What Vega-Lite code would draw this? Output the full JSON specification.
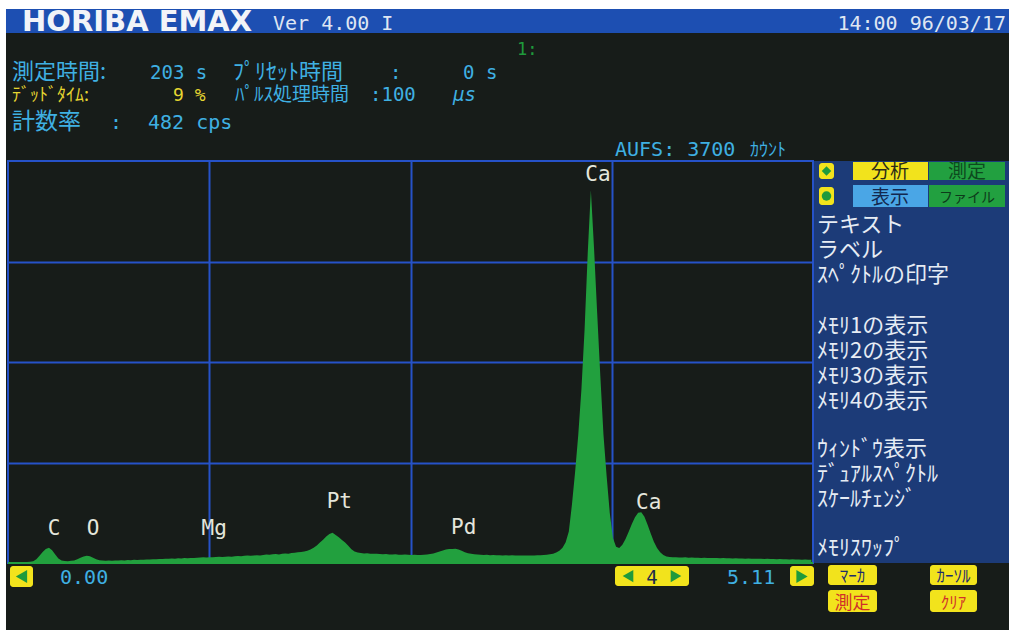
{
"$schema": "https://vega.github.io/schema/vega-lite/v6.json",
"width": 805, "height": 402,
"autosize": {"type": "none"},
"padding": {"left": 8, "top": 161, "right": 196, "bottom": 67},
"background": "#171c19",
"config": {"view": {"stroke": "#2652c8", "strokeWidth": 2}, "axis": {"titleOpacity": 0, "labels": false, "ticks": false, "domain": false}},
"datasets": {
"spectrum": [
{"keV":0.00,"counts":0},{"keV":0.02,"counts":2},{"keV":0.04,"counts":4},{"keV":0.06,"counts":5},{"keV":0.08,"counts":6},{"keV":0.10,"counts":8},{"keV":0.12,"counts":9},{"keV":0.14,"counts":11},{"keV":0.16,"counts":16},{"keV":0.18,"counts":34},
{"keV":0.20,"counts":66},{"keV":0.22,"counts":102},{"keV":0.24,"counts":128},{"keV":0.26,"counts":140},{"keV":0.28,"counts":118},{"keV":0.30,"counts":78},{"keV":0.32,"counts":42},{"keV":0.34,"counts":24},{"keV":0.36,"counts":18},{"keV":0.38,"counts":17},
{"keV":0.40,"counts":20},{"keV":0.42,"counts":24},{"keV":0.44,"counts":34},{"keV":0.46,"counts":48},{"keV":0.48,"counts":60},{"keV":0.50,"counts":66},{"keV":0.52,"counts":62},{"keV":0.54,"counts":48},{"keV":0.56,"counts":34},{"keV":0.58,"counts":26},
{"keV":0.60,"counts":22},{"keV":0.62,"counts":20},{"keV":0.64,"counts":22},{"keV":0.66,"counts":21},{"keV":0.68,"counts":24},{"keV":0.70,"counts":23},{"keV":0.72,"counts":25},{"keV":0.74,"counts":24},{"keV":0.76,"counts":27},{"keV":0.78,"counts":26},
{"keV":0.80,"counts":29},{"keV":0.82,"counts":28},{"keV":0.84,"counts":31},{"keV":0.86,"counts":30},{"keV":0.88,"counts":33},{"keV":0.90,"counts":32},{"keV":0.92,"counts":35},{"keV":0.94,"counts":34},{"keV":0.96,"counts":37},{"keV":0.98,"counts":36},
{"keV":1.00,"counts":39},{"keV":1.02,"counts":38},{"keV":1.04,"counts":41},{"keV":1.06,"counts":40},{"keV":1.08,"counts":43},{"keV":1.10,"counts":42},{"keV":1.12,"counts":45},{"keV":1.14,"counts":44},{"keV":1.16,"counts":47},{"keV":1.18,"counts":46},
{"keV":1.20,"counts":49},{"keV":1.22,"counts":50},{"keV":1.24,"counts":52},{"keV":1.26,"counts":50},{"keV":1.28,"counts":53},{"keV":1.30,"counts":52},{"keV":1.32,"counts":55},{"keV":1.34,"counts":57},{"keV":1.36,"counts":55},{"keV":1.38,"counts":58},
{"keV":1.40,"counts":60},{"keV":1.42,"counts":58},{"keV":1.44,"counts":62},{"keV":1.46,"counts":64},{"keV":1.48,"counts":62},{"keV":1.50,"counts":66},{"keV":1.52,"counts":68},{"keV":1.54,"counts":66},{"keV":1.56,"counts":70},{"keV":1.58,"counts":72},
{"keV":1.60,"counts":70},{"keV":1.62,"counts":74},{"keV":1.64,"counts":78},{"keV":1.66,"counts":75},{"keV":1.68,"counts":80},{"keV":1.70,"counts":82},{"keV":1.72,"counts":79},{"keV":1.74,"counts":85},{"keV":1.76,"counts":88},{"keV":1.78,"counts":86},
{"keV":1.80,"counts":92},{"keV":1.82,"counts":95},{"keV":1.84,"counts":98},{"keV":1.86,"counts":102},{"keV":1.88,"counts":106},{"keV":1.90,"counts":112},{"keV":1.92,"counts":124},{"keV":1.94,"counts":140},{"keV":1.96,"counts":162},{"keV":1.98,"counts":188},
{"keV":2.00,"counts":215},{"keV":2.02,"counts":245},{"keV":2.04,"counts":268},{"keV":2.06,"counts":278},{"keV":2.08,"counts":258},{"keV":2.10,"counts":236},{"keV":2.12,"counts":212},{"keV":2.14,"counts":188},{"keV":2.16,"counts":158},{"keV":2.18,"counts":126},
{"keV":2.20,"counts":106},{"keV":2.22,"counts":96},{"keV":2.24,"counts":92},{"keV":2.26,"counts":88},{"keV":2.28,"counts":90},{"keV":2.30,"counts":86},{"keV":2.32,"counts":84},{"keV":2.34,"counts":86},{"keV":2.36,"counts":82},{"keV":2.38,"counts":80},
{"keV":2.40,"counts":82},{"keV":2.42,"counts":79},{"keV":2.44,"counts":78},{"keV":2.46,"counts":80},{"keV":2.48,"counts":77},{"keV":2.50,"counts":76},{"keV":2.52,"counts":78},{"keV":2.54,"counts":75},{"keV":2.56,"counts":74},{"keV":2.58,"counts":76},
{"keV":2.60,"counts":74},{"keV":2.62,"counts":73},{"keV":2.64,"counts":75},{"keV":2.66,"counts":78},{"keV":2.68,"counts":82},{"keV":2.70,"counts":88},{"keV":2.72,"counts":96},{"keV":2.74,"counts":106},{"keV":2.76,"counts":116},{"keV":2.78,"counts":124},
{"keV":2.80,"counts":130},{"keV":2.82,"counts":128},{"keV":2.84,"counts":132},{"keV":2.86,"counts":124},{"keV":2.88,"counts":112},{"keV":2.90,"counts":100},{"keV":2.92,"counts":90},{"keV":2.94,"counts":84},{"keV":2.96,"counts":80},{"keV":2.98,"counts":78},
{"keV":3.00,"counts":76},{"keV":3.02,"counts":74},{"keV":3.04,"counts":75},{"keV":3.06,"counts":72},{"keV":3.08,"counts":73},{"keV":3.10,"counts":71},{"keV":3.12,"counts":72},{"keV":3.14,"counts":70},{"keV":3.16,"counts":72},{"keV":3.18,"counts":70},
{"keV":3.20,"counts":71},{"keV":3.22,"counts":69},{"keV":3.24,"counts":70},{"keV":3.26,"counts":68},{"keV":3.28,"counts":70},{"keV":3.30,"counts":69},{"keV":3.32,"counts":70},{"keV":3.34,"counts":68},{"keV":3.36,"counts":71},{"keV":3.38,"counts":72},
{"keV":3.40,"counts":74},{"keV":3.42,"counts":76},{"keV":3.44,"counts":80},{"keV":3.46,"counts":86},{"keV":3.48,"counts":96},{"keV":3.50,"counts":112},{"keV":3.52,"counts":140},{"keV":3.54,"counts":190},{"keV":3.56,"counts":290},{"keV":3.58,"counts":540},
{"keV":3.60,"counts":840},{"keV":3.62,"counts":1180},{"keV":3.64,"counts":1600},{"keV":3.66,"counts":2150},{"keV":3.68,"counts":2850},{"keV":3.70,"counts":3430},{"keV":3.72,"counts":2900},{"keV":3.74,"counts":2300},{"keV":3.76,"counts":1720},{"keV":3.78,"counts":1180},
{"keV":3.80,"counts":800},{"keV":3.82,"counts":460},{"keV":3.84,"counts":230},{"keV":3.86,"counts":150},{"keV":3.88,"counts":138},{"keV":3.90,"counts":168},{"keV":3.92,"counts":222},{"keV":3.94,"counts":288},{"keV":3.96,"counts":358},{"keV":3.98,"counts":420},
{"keV":4.00,"counts":462},{"keV":4.02,"counts":468},{"keV":4.04,"counts":425},{"keV":4.06,"counts":352},{"keV":4.08,"counts":272},{"keV":4.10,"counts":196},{"keV":4.12,"counts":138},{"keV":4.14,"counts":98},{"keV":4.16,"counts":74},{"keV":4.18,"counts":60},
{"keV":4.20,"counts":55},{"keV":4.22,"counts":52},{"keV":4.24,"counts":54},{"keV":4.26,"counts":51},{"keV":4.28,"counts":50},{"keV":4.30,"counts":52},{"keV":4.32,"counts":49},{"keV":4.34,"counts":50},{"keV":4.36,"counts":48},{"keV":4.38,"counts":49},
{"keV":4.40,"counts":47},{"keV":4.42,"counts":48},{"keV":4.44,"counts":46},{"keV":4.46,"counts":47},{"keV":4.48,"counts":45},{"keV":4.50,"counts":46},{"keV":4.52,"counts":44},{"keV":4.54,"counts":45},{"keV":4.56,"counts":43},{"keV":4.58,"counts":44},
{"keV":4.60,"counts":42},{"keV":4.62,"counts":43},{"keV":4.64,"counts":41},{"keV":4.66,"counts":42},{"keV":4.68,"counts":40},{"keV":4.70,"counts":41},{"keV":4.72,"counts":39},{"keV":4.74,"counts":40},{"keV":4.76,"counts":38},{"keV":4.78,"counts":39},
{"keV":4.80,"counts":37},{"keV":4.82,"counts":38},{"keV":4.84,"counts":36},{"keV":4.86,"counts":37},{"keV":4.88,"counts":35},{"keV":4.90,"counts":36},{"keV":4.92,"counts":34},{"keV":4.94,"counts":35},{"keV":4.96,"counts":33},{"keV":4.98,"counts":34},
{"keV":5.00,"counts":32},{"keV":5.02,"counts":33},{"keV":5.04,"counts":31},{"keV":5.06,"counts":32},{"keV":5.08,"counts":30},{"keV":5.10,"counts":31}
],
"peaks": [
{"element":"C","energy":0.277,"height":258},
{"element":"O","energy":0.525,"height":258},
{"element":"Mg","energy":1.254,"height":258},
{"element":"Pt","energy":2.048,"height":506},
{"element":"Pd","energy":2.838,"height":267},
{"element":"Ca","energy":3.690,"height":3516},
{"element":"Ca","energy":4.012,"height":497}
]
},
"layer": [
{"data": {"values": [{}]}, "mark": {"type": "rect", "color": "#ffffff"}, "encoding": {"x": {"datum": -0.06}, "x2": {"datum": 6.4}, "y": {"datum": 5099}, "y2": {"datum": 5200}}},
{"data": {"values": [{}]}, "mark": {"type": "rect", "color": "#ffffff"}, "encoding": {"x": {"datum": -0.06}, "x2": {"datum": -0.0127}, "y": {"datum": -700}, "y2": {"datum": 5200}}},
{"data": {"values": [{}]}, "mark": {"type": "rect", "color": "#1d4fb2"}, "encoding": {"x": {"datum": -0.0127}, "x2": {"datum": 6.4}, "y": {"datum": 4878}, "y2": {"datum": 5099}}},
{"data": {"values": [{}]}, "mark": {"type": "rect", "color": "#1c3b78"}, "encoding": {"x": {"datum": 5.1164}, "x2": {"datum": 6.4}, "y": {"datum": 0}, "y2": {"datum": 3700}}},
{"data": {"name": "spectrum"}, "mark": {"type": "area", "color": "#22a03e", "interpolate": "linear"},
 "encoding": {
  "x": {"field": "keV", "type": "quantitative", "scale": {"domain": [0, 5.11], "nice": false, "zero": false}, "axis": {"values": [1.2775, 2.555, 3.8325], "grid": true, "gridColor": "#2652c8", "gridWidth": 2, "gridOpacity": 1, "title": null}},
  "y": {"field": "counts", "type": "quantitative", "scale": {"domain": [0, 3700], "nice": false, "zero": false}, "axis": {"values": [925, 1850, 2775], "grid": true, "gridColor": "#2652c8", "gridWidth": 2, "gridOpacity": 1, "title": null}}
 }},
{"data": {"values": [{}]}, "mark": {"type": "rule", "color": "#22a03e", "strokeWidth": 2}, "encoding": {"y": {"datum": 0}}},
{"data": {"name": "peaks"}, "mark": {"type": "text", "align": "left", "baseline": "alphabetic", "dx": -4, "font": "DejaVu Sans Mono", "fontSize": 21, "color": "#e4e6dc"},
 "encoding": {"x": {"field": "energy", "type": "quantitative"}, "y": {"field": "height", "type": "quantitative"}, "text": {"field": "element"}}},
{"data": {"values": [{}]}, "mark": {"type": "text", "text": "HORIBA EMAX", "align": "left", "baseline": "alphabetic", "font": "DejaVu Sans", "fontWeight": "bold", "fontSize": 29, "color": "#f2f4f8"}, "encoding": {"x": {"datum": 0.0889}, "y": {"datum": 4896}}},
{"data": {"values": [{}]}, "mark": {"type": "text", "text": "Ver 4.00 I", "align": "left", "baseline": "alphabetic", "font": "DejaVu Sans Mono", "fontSize": 20, "color": "#dfe6f2"}, "encoding": {"x": {"datum": 1.6822}, "y": {"datum": 4906}}},
{"data": {"values": [{}]}, "mark": {"type": "text", "text": "14:00 96/03/17", "align": "right", "baseline": "alphabetic", "font": "DejaVu Sans Mono", "fontSize": 20, "color": "#dfe6f2"}, "encoding": {"x": {"datum": 6.3351}, "y": {"datum": 4906}}},
{"data": {"values": [{}]}, "mark": {"type": "text", "text": "1:", "align": "left", "baseline": "alphabetic", "font": "DejaVu Sans Mono", "fontSize": 17, "color": "#1f9a3c"}, "encoding": {"x": {"datum": 3.2311}, "y": {"datum": 4676}}},
{"data": {"values": [{}]}, "mark": {"type": "text", "text": "測定時間:", "align": "left", "baseline": "alphabetic", "font": "Noto Sans CJK JP", "fontSize": 22, "color": "#3fb0e2"}, "encoding": {"x": {"datum": 0.0254}, "y": {"datum": 4454}}},
{"data": {"values": [{}]}, "mark": {"type": "text", "text": "203 s", "align": "left", "baseline": "alphabetic", "font": "DejaVu Sans Mono", "fontSize": 19, "color": "#3fb0e2"}, "encoding": {"x": {"datum": 0.9014}, "y": {"datum": 4454}}},
{"data": {"values": [{}]}, "mark": {"type": "text", "text": "ﾌﾟﾘｾｯﾄ時間", "align": "left", "baseline": "alphabetic", "font": "Noto Sans CJK JP", "fontSize": 22, "color": "#3fb0e2"}, "encoding": {"x": {"datum": 1.4283}, "y": {"datum": 4454}}},
{"data": {"values": [{}]}, "mark": {"type": "text", "text": ":", "align": "left", "baseline": "alphabetic", "font": "DejaVu Sans Mono", "fontSize": 19, "color": "#3fb0e2"}, "encoding": {"x": {"datum": 2.4249}, "y": {"datum": 4454}}},
{"data": {"values": [{}]}, "mark": {"type": "text", "text": "0 s", "align": "left", "baseline": "alphabetic", "font": "DejaVu Sans Mono", "fontSize": 19, "color": "#3fb0e2"}, "encoding": {"x": {"datum": 2.8883}, "y": {"datum": 4454}}},
{"data": {"values": [{}]}, "mark": {"type": "text", "text": "ﾃﾞｯﾄﾞﾀｲﾑ:", "align": "left", "baseline": "alphabetic", "font": "Noto Sans CJK JP", "fontSize": 18, "color": "#e6d631"}, "encoding": {"x": {"datum": 0.0254}, "y": {"datum": 4253}}},
{"data": {"values": [{}]}, "mark": {"type": "text", "text": "9 %", "align": "left", "baseline": "alphabetic", "font": "DejaVu Sans Mono", "fontSize": 18, "color": "#e6d631"}, "encoding": {"x": {"datum": 1.0474}, "y": {"datum": 4253}}},
{"data": {"values": [{}]}, "mark": {"type": "text", "text": "ﾊﾟﾙｽ処理時間", "align": "left", "baseline": "alphabetic", "font": "Noto Sans CJK JP", "fontSize": 19, "color": "#3fb0e2"}, "encoding": {"x": {"datum": 1.4410}, "y": {"datum": 4253}}},
{"data": {"values": [{}]}, "mark": {"type": "text", "text": ":100", "align": "left", "baseline": "alphabetic", "font": "DejaVu Sans Mono", "fontSize": 19, "color": "#3fb0e2"}, "encoding": {"x": {"datum": 2.2979}, "y": {"datum": 4253}}},
{"data": {"values": [{}]}, "mark": {"type": "text", "text": "µs", "align": "left", "baseline": "alphabetic", "font": "DejaVu Sans Mono", "fontSize": 19, "fontStyle": "italic", "color": "#3fb0e2"}, "encoding": {"x": {"datum": 2.8248}, "y": {"datum": 4253}}},
{"data": {"values": [{}]}, "mark": {"type": "text", "text": "計数率", "align": "left", "baseline": "alphabetic", "font": "Noto Sans CJK JP", "fontSize": 23, "color": "#3fb0e2"}, "encoding": {"x": {"datum": 0.0254}, "y": {"datum": 3995}}},
{"data": {"values": [{}]}, "mark": {"type": "text", "text": ":", "align": "left", "baseline": "alphabetic", "font": "DejaVu Sans Mono", "fontSize": 20, "color": "#3fb0e2"}, "encoding": {"x": {"datum": 0.6475}, "y": {"datum": 3995}}},
{"data": {"values": [{}]}, "mark": {"type": "text", "text": "482 cps", "align": "left", "baseline": "alphabetic", "font": "DejaVu Sans Mono", "fontSize": 20, "color": "#3fb0e2"}, "encoding": {"x": {"datum": 0.8887}, "y": {"datum": 3995}}},
{"data": {"values": [{}]}, "mark": {"type": "text", "text": "AUFS: 3700", "align": "left", "baseline": "alphabetic", "font": "DejaVu Sans Mono", "fontSize": 20, "color": "#3fb0e2"}, "encoding": {"x": {"datum": 3.8531}, "y": {"datum": 3746}}},
{"data": {"values": [{}]}, "mark": {"type": "text", "text": "ｶｳﾝﾄ", "align": "left", "baseline": "alphabetic", "font": "Noto Sans CJK JP", "fontSize": 18, "color": "#3fb0e2"}, "encoding": {"x": {"datum": 4.7101}, "y": {"datum": 3746}}},
{"data": {"values": [{}]}, "mark": {"type": "rect", "color": "#f2e31c"}, "encoding": {"x": {"datum": 5.3639}, "x2": {"datum": 5.84}, "y": {"datum": 3525}, "y2": {"datum": 3691}}},
{"data": {"values": [{}]}, "mark": {"type": "rect", "color": "#22a040"}, "encoding": {"x": {"datum": 5.8463}, "x2": {"datum": 6.3288}, "y": {"datum": 3525}, "y2": {"datum": 3691}}},
{"data": {"values": [{}]}, "mark": {"type": "rect", "color": "#4aa6e6"}, "encoding": {"x": {"datum": 5.3639}, "x2": {"datum": 5.84}, "y": {"datum": 3277}, "y2": {"datum": 3479}}},
{"data": {"values": [{}]}, "mark": {"type": "rect", "color": "#22a040"}, "encoding": {"x": {"datum": 5.8463}, "x2": {"datum": 6.3288}, "y": {"datum": 3277}, "y2": {"datum": 3479}}},
{"data": {"values": [{}]}, "mark": {"type": "rect", "color": "#f2e31c", "cornerRadius": 3}, "encoding": {"x": {"datum": 5.1481}, "x2": {"datum": 5.2434}, "y": {"datum": 3534}, "y2": {"datum": 3682}}},
{"data": {"values": [{}]}, "mark": {"type": "rect", "color": "#f2e31c", "cornerRadius": 3}, "encoding": {"x": {"datum": 5.1481}, "x2": {"datum": 5.2434}, "y": {"datum": 3295}, "y2": {"datum": 3461}}},
{"data": {"values": [{}]}, "mark": {"type": "point", "shape": "diamond", "filled": true, "color": "#1f9a3c", "size": 90, "opacity": 1}, "encoding": {"x": {"datum": 5.1957}, "y": {"datum": 3608}}},
{"data": {"values": [{}]}, "mark": {"type": "point", "shape": "circle", "filled": true, "color": "#1f9a3c", "size": 90, "opacity": 1}, "encoding": {"x": {"datum": 5.1957}, "y": {"datum": 3378}}},
{"data": {"values": [{}]}, "mark": {"type": "text", "text": "分析", "align": "center", "baseline": "alphabetic", "font": "Noto Sans CJK JP", "fontSize": 19, "color": "#2b2b18"}, "encoding": {"x": {"datum": 5.5988}, "y": {"datum": 3545}}},
{"data": {"values": [{}]}, "mark": {"type": "text", "text": "測定", "align": "center", "baseline": "alphabetic", "font": "Noto Sans CJK JP", "fontSize": 19, "color": "#0d4a1e"}, "encoding": {"x": {"datum": 6.0876}, "y": {"datum": 3545}}},
{"data": {"values": [{}]}, "mark": {"type": "text", "text": "表示", "align": "center", "baseline": "alphabetic", "font": "Noto Sans CJK JP", "fontSize": 19, "color": "#13284f"}, "encoding": {"x": {"datum": 5.5988}, "y": {"datum": 3304}}},
{"data": {"values": [{}]}, "mark": {"type": "text", "text": "ファイル", "align": "center", "baseline": "alphabetic", "font": "Noto Sans CJK JP", "fontSize": 14, "color": "#0d3a1a"}, "encoding": {"x": {"datum": 6.0876}, "y": {"datum": 3320}}},
{"data": {"values": [{}]}, "mark": {"type": "text", "text": ["テキスト", "ラベル", "ｽﾍﾟｸﾄﾙの印字"], "lineHeight": 24.9, "align": "left", "baseline": "alphabetic", "font": "Noto Sans CJK JP", "fontSize": 22, "color": "#e6ecf4"}, "encoding": {"x": {"datum": 5.1354}, "y": {"datum": 3047}}},
{"data": {"values": [{}]}, "mark": {"type": "text", "text": ["ﾒﾓﾘ1の表示", "ﾒﾓﾘ2の表示", "ﾒﾓﾘ3の表示", "ﾒﾓﾘ4の表示"], "lineHeight": 24.9, "align": "left", "baseline": "alphabetic", "font": "Noto Sans CJK JP", "fontSize": 22, "color": "#e6ecf4"}, "encoding": {"x": {"datum": 5.1354}, "y": {"datum": 2117}}},
{"data": {"values": [{}]}, "mark": {"type": "text", "text": ["ｳｨﾝﾄﾞｳ表示", "ﾃﾞｭｱﾙｽﾍﾟｸﾄﾙ", "ｽｹｰﾙﾁｪﾝｼﾞ"], "lineHeight": 24.9, "align": "left", "baseline": "alphabetic", "font": "Noto Sans CJK JP", "fontSize": 22, "color": "#e6ecf4"}, "encoding": {"x": {"datum": 5.1354}, "y": {"datum": 985}}},
{"data": {"values": [{}]}, "mark": {"type": "text", "text": "ﾒﾓﾘｽﾜｯﾌﾟ", "align": "left", "baseline": "alphabetic", "font": "Noto Sans CJK JP", "fontSize": 22, "color": "#e6ecf4"}, "encoding": {"x": {"datum": 5.1354}, "y": {"datum": 74}}},
{"data": {"values": [{}]}, "mark": {"type": "rect", "color": "#f2e31c", "cornerRadius": 3}, "encoding": {"x": {"datum": 0.0127}, "x2": {"datum": 0.1587}, "y": {"datum": -221}, "y2": {"datum": -28}}},
{"data": {"values": [{}]}, "mark": {"type": "rect", "color": "#f2e31c", "cornerRadius": 3}, "encoding": {"x": {"datum": 3.8531}, "x2": {"datum": 4.3229}, "y": {"datum": -212}, "y2": {"datum": -28}}},
{"data": {"values": [{}]}, "mark": {"type": "rect", "color": "#f2e31c", "cornerRadius": 3}, "encoding": {"x": {"datum": 4.964}, "x2": {"datum": 5.1164}, "y": {"datum": -212}, "y2": {"datum": -28}}},
{"data": {"values": [{}]}, "mark": {"type": "rect", "color": "#f2e31c", "cornerRadius": 3}, "encoding": {"x": {"datum": 5.2052}, "x2": {"datum": 5.5163}, "y": {"datum": -202}, "y2": {"datum": -18}}},
{"data": {"values": [{}]}, "mark": {"type": "rect", "color": "#f2e31c", "cornerRadius": 3}, "encoding": {"x": {"datum": 5.2052}, "x2": {"datum": 5.5163}, "y": {"datum": -451}, "y2": {"datum": -249}}},
{"data": {"values": [{}]}, "mark": {"type": "rect", "color": "#f2e31c", "cornerRadius": 3}, "encoding": {"x": {"datum": 5.8527}, "x2": {"datum": 6.1511}, "y": {"datum": -202}, "y2": {"datum": -18}}},
{"data": {"values": [{}]}, "mark": {"type": "rect", "color": "#f2e31c", "cornerRadius": 3}, "encoding": {"x": {"datum": 5.8527}, "x2": {"datum": 6.1511}, "y": {"datum": -451}, "y2": {"datum": -249}}},
{"data": {"values": [{}]}, "mark": {"type": "point", "shape": "triangle-left", "filled": true, "color": "#1f9a3c", "size": 170, "opacity": 1}, "encoding": {"x": {"datum": 0.0857}, "y": {"datum": -124}}},
{"data": {"values": [{}]}, "mark": {"type": "point", "shape": "triangle-left", "filled": true, "color": "#1f9a3c", "size": 150, "opacity": 1}, "encoding": {"x": {"datum": 3.9356}, "y": {"datum": -120}}},
{"data": {"values": [{}]}, "mark": {"type": "point", "shape": "triangle-right", "filled": true, "color": "#1f9a3c", "size": 150, "opacity": 1}, "encoding": {"x": {"datum": 4.2403}, "y": {"datum": -120}}},
{"data": {"values": [{}]}, "mark": {"type": "point", "shape": "triangle-right", "filled": true, "color": "#1f9a3c", "size": 170, "opacity": 1}, "encoding": {"x": {"datum": 5.0402}, "y": {"datum": -124}}},
{"data": {"values": [{}]}, "mark": {"type": "text", "text": "4", "align": "center", "baseline": "alphabetic", "font": "DejaVu Sans Mono", "fontSize": 19, "color": "#1c2c4c"}, "encoding": {"x": {"datum": 4.088}, "y": {"datum": -193}}},
{"data": {"values": [{}]}, "mark": {"type": "text", "text": "0.00", "align": "left", "baseline": "alphabetic", "font": "DejaVu Sans Mono", "fontSize": 20, "color": "#3fb0e2"}, "encoding": {"x": {"datum": 0.3301}, "y": {"datum": -193}}},
{"data": {"values": [{}]}, "mark": {"type": "text", "text": "5.11", "align": "left", "baseline": "alphabetic", "font": "DejaVu Sans Mono", "fontSize": 20, "color": "#3fb0e2"}, "encoding": {"x": {"datum": 4.5641}, "y": {"datum": -193}}},
{"data": {"values": [{}]}, "mark": {"type": "text", "text": "ﾏｰｶ", "align": "center", "baseline": "alphabetic", "font": "Noto Sans CJK JP", "fontSize": 17, "color": "#1c2c6c"}, "encoding": {"x": {"datum": 5.3608}, "y": {"datum": -175}}},
{"data": {"values": [{}]}, "mark": {"type": "text", "text": "測定", "align": "center", "baseline": "alphabetic", "font": "Noto Sans CJK JP", "fontSize": 18, "color": "#d0302a"}, "encoding": {"x": {"datum": 5.3608}, "y": {"datum": -423}}},
{"data": {"values": [{}]}, "mark": {"type": "text", "text": "ｶｰｿﾙ", "align": "center", "baseline": "alphabetic", "font": "Noto Sans CJK JP", "fontSize": 17, "color": "#1c2c6c"}, "encoding": {"x": {"datum": 6.0019}, "y": {"datum": -175}}},
{"data": {"values": [{}]}, "mark": {"type": "text", "text": "ｸﾘｱ", "align": "center", "baseline": "alphabetic", "font": "Noto Sans CJK JP", "fontSize": 17, "color": "#d0302a"}, "encoding": {"x": {"datum": 6.0019}, "y": {"datum": -423}}}
]
}
